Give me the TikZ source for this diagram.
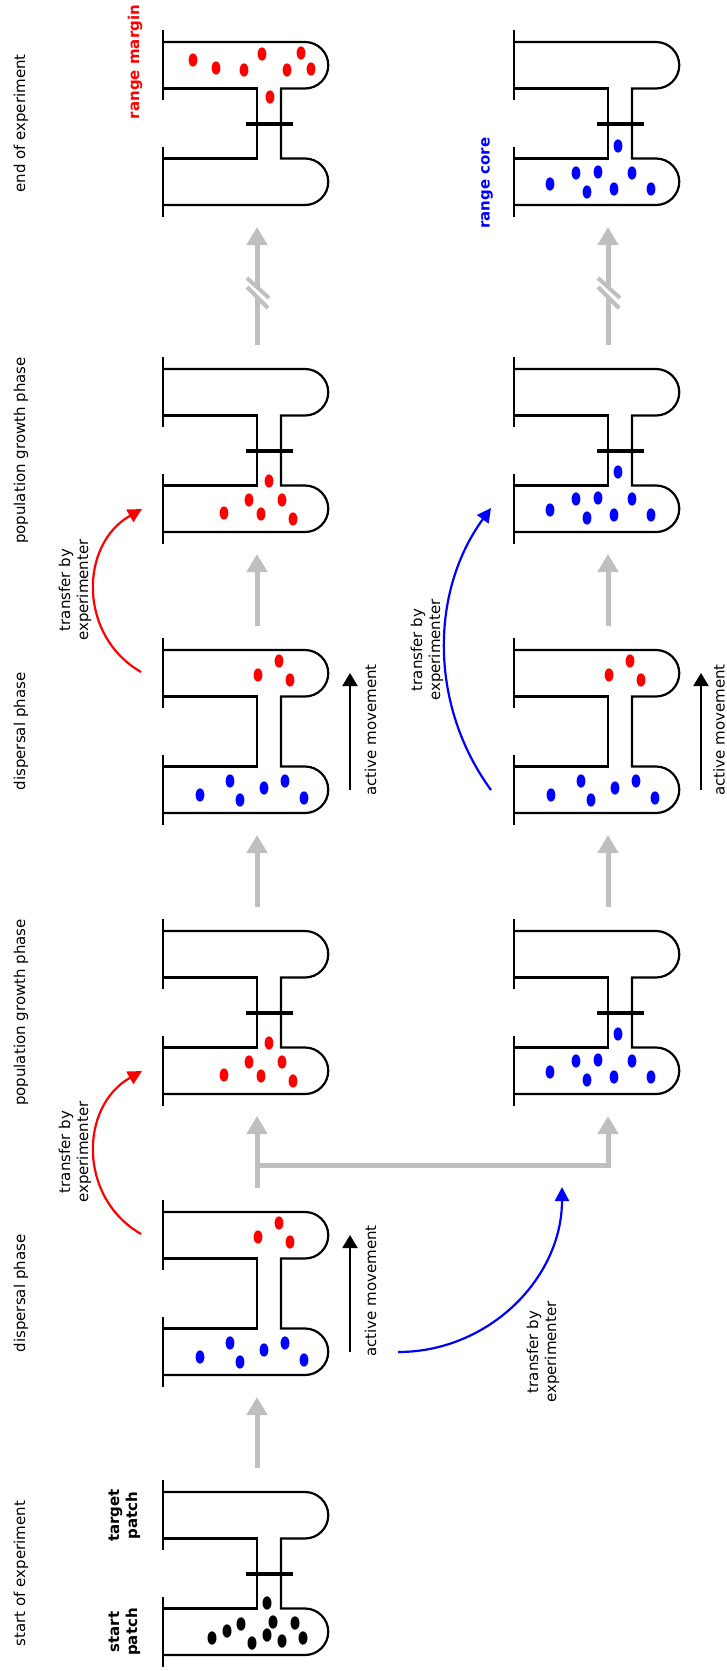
\documentclass[tikz,border=0pt]{standalone}
\usepackage{fontspec}
\setmainfont{DejaVu Sans}
\usetikzlibrary{arrows.meta,calc}
\definecolor{lgray}{HTML}{BFBFBF}
\newcommand\unitshape{%
  \draw[baseln] (0,0) -- (0,70) (0,117) -- (0,187);
  \draw[tube] (0,12) -- (142,12)
     .. controls (154.84,12) and (165.25,22.41) .. (165.25,35.25)
     .. controls (165.25,48.09) and (154.84,58.5) .. (142,58.5)
     -- (118,58.5) -- (118,128.5) -- (142,128.5)
     .. controls (154.84,128.5) and (165.25,138.91) .. (165.25,151.75)
     .. controls (165.25,164.59) and (154.84,175) .. (142,175) -- (0,175);
  \draw[tube] (0,58.5) -- (94,58.5) -- (94,128.5) -- (0,128.5);
  \coordinate (-out) at (94,-12);
  \coordinate (-in) at (94,197);
  \coordinate (-mvs) at (187,152);
  \coordinate (-mve) at (187,35);
}
\tikzset{
  tube/.style={line width=2.2pt, line join=miter},
  baseln/.style={line width=2.6pt},
  barrierln/.style={line width=4.2pt},
  grayline/.style={line width=5pt, draw=lgray},
  grayarrow/.style={grayline, line join=miter, -{Triangle[width=20pt,length=18pt]}},
  breakmark/.style={line width=4pt, draw=lgray},
  movearrow/.style={line width=2.2pt, -{Triangle[width=15pt,length=13pt]}},
  transfer/.style={line width=2.2pt, -{Triangle[width=14pt,length=14pt]}},
  txt/.style={font=\fontsize{15}{18}\selectfont, inner sep=0pt, rotate=90},
  boldtxt/.style={txt, font=\fontsize{15}{18}\selectfont\bfseries, align=center},
  twoline/.style={txt, align=center},
  spot/.style={fill=#1},
  pics/openunit/.style={code={\unitshape}},
  pics/closedunit/.style={code={\unitshape\draw[barrierln] (83,94) -- (130,94);}},
  pics/startdots/.style={code={\foreach \x/\y in {104/123,78/144,64/151,49/158,110/142,132/143,104/155,89/163,119/161,140/158}{\fill[spot=#1] (\x,\y) ellipse[x radius=4.5pt,y radius=6.7pt];}}},
  pics/disptop/.style={code={\foreach \x/\y in {116/23,95/37,127/42}{\fill[spot=#1] (\x,\y) ellipse[x radius=4.4pt,y radius=6.6pt];}}},
  pics/dispbottom/.style={code={\foreach \x/\y in {37/157,67/143,77/162,101/150,122/143,141/160}{\fill[spot=#1] (\x,\y) ellipse[x radius=4.4pt,y radius=6.6pt];}}},
  pics/growred/.style={code={\foreach \x/\y in {106/124,86/143,119/143,61/156,98/157,130/162}{\fill[spot=#1] (\x,\y) ellipse[x radius=4.4pt,y radius=6.6pt];}}},
  pics/growblue/.style={code={\foreach \x/\y in {104/115,62/142,84/141,118/142,36/153,73/161,100/158,137/158}{\fill[spot=#1] (\x,\y) ellipse[x radius=4.4pt,y radius=6.6pt];}}},
  pics/endred/.style={code={\foreach \x/\y in {30/30,53/38,81/40,99/24,124/40,138/23,148/39,107/67}{\fill[spot=#1] (\x,\y) ellipse[x radius=4.4pt,y radius=6.6pt];}}},
}
\begin{document}
\begin{tikzpicture}[x=1pt,y=-1pt]
\useasboundingbox (0,0) rectangle (726,1671);

% units
\pic (s)   at (163,1480) {closedunit};
\pic (d1)  at (163,1200) {openunit};
\pic (g1)  at (163,919)  {closedunit};
\pic (g1r) at (514,919)  {closedunit};
\pic (d2)  at (163,638)  {openunit};
\pic (d2r) at (514,638)  {openunit};
\pic (g2)  at (163,357)  {closedunit};
\pic (g2r) at (514,357)  {closedunit};
\pic (e)   at (163,30)   {closedunit};
\pic (er)  at (514,30)   {closedunit};

% individuals
\pic at (163,1480) {startdots=black};
\pic at (163,1200) {disptop=red};
\pic at (163,1200) {dispbottom=blue};
\pic at (163,919)  {growred=red};
\pic at (514,919)  {growblue=blue};
\pic at (163,638)  {disptop=red};
\pic at (163,638)  {dispbottom=blue};
\pic at (514,638)  {disptop=red};
\pic at (514,638)  {dispbottom=blue};
\pic at (163,357)  {growred=red};
\pic at (514,357)  {growblue=blue};
\pic at (163,30)   {endred=red};
\pic at (514,31)   {growblue=blue};

% time arrows
\draw[grayarrow] (s-out) -- (d1-in);
\draw[grayarrow] (d1-out) -- (g1-in);
\coordinate (j) at ($(g1-in)+(0,49)$);
\draw[grayarrow] (j) -| (g1r-in);
\draw[grayarrow] (g1-out) -- (d2-in);
\draw[grayarrow] (g1r-out) -- (d2r-in);
\draw[grayarrow] (d2-out) -- (g2-in);
\draw[grayarrow] (d2r-out) -- (g2r-in);
\foreach \u/\v in {g2/e, g2r/er}{
  \draw[grayline] (\u-out) -- ($(\u-out)+(0,-47)$);
  \draw[grayarrow] ($(\v-in)+(0,61)$) -- (\v-in);
  \draw[breakmark] ($(\u-out)+(-10,-67)$) -- ($(\u-out)+(12,-47)$);
  \draw[breakmark] ($(\u-out)+(-10,-58)$) -- ($(\u-out)+(11,-37)$);
}

% active movement
\draw[movearrow] (d1-mvs) -- (d1-mve);
\draw[movearrow] (d2-mvs) -- (d2-mve);
\draw[movearrow] (d2r-mvs) -- (d2r-mve);
\node[txt, anchor=base] (am1) at (376,1291) {active movement};
\node[txt, anchor=base] (am2) at (376,730) {active movement};
\node[txt, anchor=base] (am3) at (724.5,730) {active movement};

% transfers
\coordinate (tr1s) at (141,1234);
\coordinate (tr1e) at (142,1071);
\coordinate (tr2s) at (141,672);
\coordinate (tr2e) at (142,509);
\draw[transfer, red] (tr1s) .. controls +(-62.8,-36.2) and +(-62.8,35.5) .. (tr1e);
\draw[transfer, red] (tr2s) .. controls +(-62.8,-36.2) and +(-62.8,35.5) .. (tr2e);
\coordinate (tb1s) at (398,1352);
\coordinate (tb1e) at (562,1187);
\draw[transfer, blue] (tb1s) .. controls +(91,0) and +(0,91) .. (tb1e);
\coordinate (tb2s) at (491,790);
\coordinate (tb2e) at (491,508);
\draw[transfer, blue] (tb2s) .. controls +(-61.5,-84.2) and +(-61.5,84.2) .. (tb2e);
\node[twoline] (t1) at (75,1152) {transfer by\\experimenter};
\node[twoline] (t2) at (75,590) {transfer by\\experimenter};
\node[twoline] (t3) at (543,1352) {transfer by\\experimenter};
\node[twoline] (t4) at (427,650) {transfer by\\experimenter};

% phase labels
\node[txt, anchor=base] (p1) at (25,1573.5) {start of experiment};
\node[txt, anchor=base] (p2) at (25,1293.5) {dispersal phase};
\node[txt, anchor=base] (p3) at (25,1012.5) {population growth phase};
\node[txt, anchor=base] (p4) at (25,731.5) {dispersal phase};
\node[txt, anchor=base] (p5) at (25,450.5) {population growth phase};
\node[txt, anchor=base] (p6) at (25,123.5) {end of experiment};

% patch labels
\node[boldtxt] (sp) at (124.5,1632) {start\\patch};
\node[boldtxt] (tp) at (124.5,1515.5) {target\\patch};
\node[boldtxt, anchor=base, red] (rm) at (139,62) {range margin};
\node[boldtxt, anchor=base, blue] (rc) at (489.5,183) {range core};
\end{tikzpicture}
\end{document}
